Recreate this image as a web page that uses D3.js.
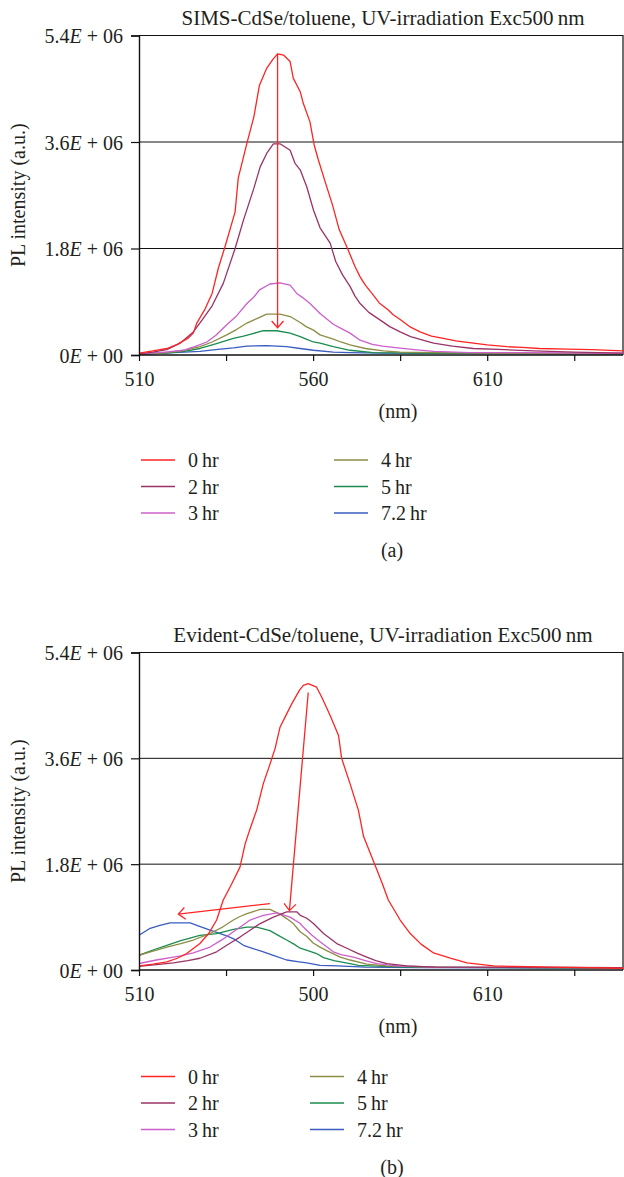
<!DOCTYPE html>
<html>
<head>
<meta charset="utf-8">
<script src="https://cdn.jsdelivr.net/npm/d3@7"></script>
<style>
  html, body { margin: 0; padding: 0; background: #fff; }
  svg text { font-family: "Liberation Serif", "DejaVu Serif", serif; }
</style>
</head>
<body>
<svg id="chart" width="624" height="1177"></svg>
<script>
// ---------------- DATA ----------------
const seriesNames = ["0 hr", "2 hr", "3 hr", "4 hr", "5 hr", "7.2 hr"];
const seriesColors = ["#ff2424", "#993366", "#cc5fcc", "#8c8c45", "#1b8c4f", "#3a5cbf"];
const yTickValues = [0, 1.8, 3.6, 5.4]; // in units of 1E6
const yTickLabels = ["0E + 00", "1.8E + 06", "3.6E + 06", "5.4E + 06"];
const xTickValues = [510, 535, 560, 585, 610, 635];
const xTickLabelsA = ["510", "", "560", "", "610", ""];
const xTickLabelsB = ["510", "", "500", "", "610", ""];
const titleA = "SIMS-CdSe/toluene, UV-irradiation Exc500\u2009nm";
const titleB = "Evident-CdSe/toluene, UV-irradiation Exc500\u2009nm";

// (a) SIMS-CdSe — [wavelength nm, PL intensity ×1E6]
const sims0 = [[510,0.03],[514,0.07],[518,0.11],[521,0.18],[524,0.28],[525.6,0.37],[526.6,0.54],[529,0.78],[531,1.04],[532.8,1.47],[534.7,1.83],[537.6,2.42],[538.5,2.99],[541,3.58],[543,4.03],[544.6,4.56],[546.7,4.85],[548.5,5.0],[549.8,5.09],[551.5,5.07],[553.4,4.96],[554.3,4.68],[556.3,4.45],[557.2,4.25],[559.1,3.94],[560.3,3.55],[561.5,3.3],[563.6,2.90],[565.5,2.55],[567.5,2.12],[570.1,1.77],[572,1.5],[573.5,1.32],[575,1.18],[576.9,1.04],[579,0.88],[581.6,0.76],[583,0.68],[585,0.60],[588,0.47],[590.7,0.39],[594,0.32],[597.4,0.28],[601,0.24],[606,0.20],[610,0.17],[615.7,0.14],[620,0.13],[625,0.11],[633,0.10],[640,0.09],[649,0.07]];
const sims2 = [[510,0.02],[514,0.05],[518,0.09],[521.8,0.2],[525.6,0.39],[528,0.58],[530.9,0.82],[534.2,1.21],[537.6,1.80],[540,2.28],[543,2.82],[544.8,3.18],[546.7,3.41],[548.6,3.57],[550.5,3.57],[553.4,3.46],[554.8,3.24],[556.3,3.13],[558.2,2.84],[560.1,2.45],[562,2.15],[564.9,1.89],[566.5,1.58],[568.5,1.35],[570.6,1.16],[572,1.0],[573.5,0.87],[576,0.72],[579.3,0.59],[582,0.48],[585,0.39],[588,0.31],[591,0.26],[594.6,0.20],[600,0.15],[606,0.11],[615,0.09],[623.3,0.07],[635,0.05],[649,0.03]];
const sims3 = [[510,0.02],[516,0.04],[522.7,0.08],[526,0.14],[529.5,0.22],[532,0.33],[535.2,0.51],[538,0.66],[541,0.87],[543,0.98],[544.6,1.10],[547.6,1.20],[550.5,1.22],[553.4,1.18],[555.3,1.04],[557,0.97],[559.1,0.87],[562,0.70],[565.8,0.52],[568,0.45],[570.6,0.37],[573.5,0.25],[577,0.18],[580,0.15],[583,0.13],[589,0.09],[594.6,0.06],[605,0.04],[620,0.04],[649,0.03]];
const sims4 = [[510,0.01],[518,0.04],[523,0.08],[527.5,0.14],[531,0.22],[535.2,0.34],[538,0.43],[541,0.54],[544,0.62],[546.7,0.69],[550.5,0.69],[553.4,0.65],[556.3,0.55],[558,0.48],[560.1,0.42],[562,0.34],[565.8,0.27],[568,0.22],[570.6,0.17],[575,0.11],[580.2,0.07],[585,0.05],[595,0.04],[610,0.03],[649,0.02]];
const sims5 = [[510,0.01],[518,0.03],[523,0.06],[527.5,0.11],[532,0.19],[537.1,0.28],[540,0.32],[541.9,0.35],[545.7,0.41],[549.6,0.41],[553.4,0.37],[556.3,0.31],[558,0.27],[560.1,0.22],[562,0.20],[565.8,0.14],[570.6,0.08],[577.3,0.04],[590,0.03],[649,0.02]];
const sims7 = [[510,0.02],[520,0.04],[527.5,0.06],[532,0.09],[537.1,0.12],[541,0.15],[546.7,0.16],[552.4,0.14],[556.3,0.11],[560.1,0.08],[565.8,0.05],[570.6,0.04],[580,0.03],[649,0.02]];

// (b) Evident-CdSe
const evid0 = [[510,0.07],[514,0.10],[518,0.14],[521,0.20],[523.7,0.28],[525.5,0.36],[527.5,0.45],[530,0.62],[532.3,0.85],[534.2,1.19],[536.5,1.45],[539,1.75],[540.5,2.15],[542,2.42],[543.8,2.72],[545.7,3.17],[547.5,3.48],[549.1,3.77],[550.5,4.13],[552.2,4.33],[553.9,4.53],[556.1,4.76],[557.2,4.84],[558.6,4.87],[561,4.81],[562.5,4.64],[564.9,4.33],[567.3,3.99],[568.2,3.60],[570.6,3.17],[573,2.72],[574.5,2.27],[577.8,1.78],[580,1.45],[581.6,1.19],[585,0.85],[587.9,0.62],[591,0.44],[594.6,0.29],[599.4,0.20],[604.2,0.12],[611.8,0.07],[617.6,0.06],[629,0.05],[649,0.03]];
const evid2 = [[510,0.06],[515,0.09],[519.9,0.12],[524,0.16],[527.5,0.20],[532.3,0.31],[536,0.45],[539,0.56],[542,0.68],[544.8,0.79],[548.6,0.90],[552.4,0.99],[555.3,0.99],[556.3,0.93],[558.2,0.88],[560.1,0.79],[563,0.62],[566.8,0.45],[569.7,0.37],[572.5,0.29],[575.4,0.22],[578,0.16],[581.2,0.11],[586.9,0.07],[595,0.05],[649,0.04]];
const evid3 = [[510,0.11],[515,0.17],[519.9,0.22],[522,0.24],[525.6,0.29],[530.4,0.39],[534,0.52],[537.1,0.65],[540,0.77],[541.9,0.85],[545.7,0.93],[549.6,0.97],[553.4,0.90],[556.3,0.79],[557.2,0.73],[559.5,0.60],[562,0.48],[565.8,0.31],[568,0.26],[571.6,0.22],[575,0.16],[578.3,0.11],[584,0.07],[595,0.05],[649,0.04]];
const evid4 = [[510,0.25],[514,0.32],[518,0.39],[522,0.45],[525.6,0.51],[530.4,0.62],[534,0.73],[537.1,0.85],[539,0.91],[541,0.96],[544.8,1.03],[547.6,1.03],[550.5,0.95],[552.5,0.87],[554.3,0.79],[556.3,0.65],[558.2,0.57],[560,0.46],[562,0.39],[563.9,0.33],[567.8,0.22],[570.6,0.17],[575.4,0.10],[581,0.07],[595,0.05],[649,0.04]];
const evid5 = [[510,0.25],[514,0.34],[518,0.42],[522,0.50],[527.5,0.59],[532.3,0.62],[537.1,0.69],[541,0.73],[543.8,0.73],[547.6,0.67],[550,0.59],[552.4,0.51],[554.5,0.44],[556.3,0.37],[558.5,0.33],[561,0.28],[563,0.21],[566,0.16],[570.6,0.11],[573,0.08],[580,0.06],[587,0.05],[649,0.03]];
const evid7 = [[510,0.59],[513.2,0.71],[516,0.76],[518.9,0.80],[524.7,0.80],[527,0.75],[530.4,0.68],[535.2,0.58],[537.5,0.52],[540,0.42],[543,0.36],[545.7,0.31],[549,0.24],[552.4,0.17],[556,0.14],[558.2,0.12],[562,0.08],[567,0.07],[575,0.05],[590,0.04],[649,0.03]];

// annotation arrows: [[tailX, tailY], [tipX, tipY]] in data units
const arrowsA = [[[549.8, 5.09], [549.8, 0.46]]];
const arrowsB = [[[558.6, 4.72], [553.2, 1.01]], [[547.6, 1.13], [521.3, 0.95]]];

// ---------------- DRAW ----------------
const SERIF = '"Liberation Serif", "DejaVu Serif", serif';
const svg = d3.select("#chart").attr("font-family", SERIF);
const FONT = 20;
const TXT = "#231f20";

function drawChart(cfg) {
  const g = svg.append("g");
  const x = d3.scaleLinear().domain([510, 649]).range([139, 623]);
  const y = d3.scaleLinear().domain([0, 5.4]).range([cfg.bottom, cfg.top]);

  // title
  g.append("text").attr("x", 383).attr("y", cfg.top - 11)
    .attr("text-anchor", "middle").attr("font-size", 21).attr("fill", TXT)
    .text(cfg.title);

  // gridlines
  g.selectAll(".grid").data(yTickValues.filter(v => v > 0 && v < 5.4)).join("line")
    .attr("x1", x.range()[0]).attr("x2", x.range()[1])
    .attr("y1", d => y(d)).attr("y2", d => y(d))
    .attr("stroke", "#111").attr("stroke-width", 1);

  // plot border top and right
  g.append("path")
    .attr("d", `M${x.range()[0]},${y(5.4)}H${x.range()[1]}V${y(0)}`)
    .attr("fill", "none").attr("stroke", "#111").attr("stroke-width", 1.2);

  // clip
  const clipId = "clip" + cfg.id;
  svg.append("clipPath").attr("id", clipId).append("rect")
    .attr("x", x.range()[0]).attr("y", y(5.4))
    .attr("width", x.range()[1] - x.range()[0]).attr("height", y(0) - y(5.4));

  const line = d3.line().x(d => x(d[0])).y(d => y(d[1]));
  const lg = g.append("g").attr("clip-path", `url(#${clipId})`);
  cfg.series.map((s, i) => ({ s, i })).reverse().forEach(({ s, i }) => {
    lg.append("path").datum(s).attr("d", line)
      .attr("fill", "none").attr("stroke", seriesColors[i]).attr("stroke-width", 1.3)
      .attr("stroke-linejoin", "round");
  });

  // arrows
  cfg.arrows.forEach(a => {
    const [t0, t1] = a;
    const x0 = x(t0[0]), y0 = y(t0[1]), x1 = x(t1[0]), y1 = y(t1[1]);
    const ang = Math.atan2(y1 - y0, x1 - x0);
    const L = 9, spread = 0.72;
    const p1 = [x1 - L * Math.cos(ang - spread), y1 - L * Math.sin(ang - spread)];
    const p2 = [x1 - L * Math.cos(ang + spread), y1 - L * Math.sin(ang + spread)];
    g.append("path")
      .attr("d", `M${x0},${y0}L${x1},${y1}M${p1[0]},${p1[1]}L${x1},${y1}L${p2[0]},${p2[1]}`)
      .attr("fill", "none").attr("stroke", "#ff2424").attr("stroke-width", 1.3);
  });

  // y axis
  const yAxis = g.append("g").attr("transform", `translate(${x.range()[0]},0)`)
    .call(d3.axisLeft(y).tickValues(yTickValues).tickSize(8).tickFormat(""));
  yAxis.attr("font-family", SERIF);
  yAxis.select(".domain").attr("stroke", "#111").attr("stroke-width", 1.4);
  yAxis.selectAll(".tick line").attr("stroke", "#111").attr("stroke-width", 1.2);
  yAxis.selectAll(".tick").each(function (d) {
    const lab = yTickLabels[yTickValues.indexOf(d)];
    const [mant, exp] = lab.split("E");
    const t = d3.select(this).append("text")
      .attr("x", -16).attr("dy", "0.35em").attr("text-anchor", "end")
      .attr("fill", TXT).attr("font-size", FONT).attr("font-family", SERIF);
    t.append("tspan").text(mant);
    t.append("tspan").attr("font-style", "italic").text("E");
    t.append("tspan").text(exp);
  });

  // x axis
  const xAxis = g.append("g").attr("transform", `translate(0,${y(0)})`)
    .call(d3.axisBottom(x).tickValues(xTickValues).tickSize(6)
      .tickFormat((d, i) => cfg.xLabels[i]));
  xAxis.attr("font-family", SERIF);
  xAxis.select(".domain").attr("stroke", "#111").attr("stroke-width", 1.6)
    .attr("d", `M${x.range()[0]},0H${x.range()[1]}`);
  xAxis.selectAll(".tick line").attr("stroke", "#111").attr("stroke-width", 1.2);
  xAxis.selectAll(".tick text").attr("font-size", FONT).attr("fill", TXT)
    .attr("y", 17).attr("font-family", SERIF);

  // x axis title
  g.append("text").attr("x", 398).attr("y", y(0) + 63)
    .attr("text-anchor", "middle").attr("font-size", FONT).attr("fill", TXT)
    .text("(nm)");

  // y axis title
  const yc = (y(0) + y(5.4)) / 2;
  g.append("text").attr("transform", `translate(25,${yc}) rotate(-90)`)
    .attr("text-anchor", "middle").attr("font-size", FONT).attr("fill", TXT)
    .text("PL intensity (a.u.)");

  // legend
  const lgd = g.append("g");
  seriesNames.forEach((name, i) => {
    const col = Math.floor(i / 3), row = i % 3;
    const lx = col === 0 ? 141 : cfg.legendCol2;
    const ly = cfg.legendTop + row * 26.5;
    lgd.append("line").attr("x1", lx).attr("x2", lx + 34).attr("y1", ly).attr("y2", ly)
      .attr("stroke", seriesColors[i]).attr("stroke-width", 1.6);
    lgd.append("text").attr("x", lx + 47).attr("y", ly).attr("dy", "0.35em")
      .attr("font-size", FONT).attr("fill", TXT).text(name.replace(" ", "\u2009"));
  });

  // panel label
  g.append("text").attr("x", 392).attr("y", cfg.panelY).attr("dy", "0.35em")
    .attr("text-anchor", "middle").attr("font-size", FONT).attr("fill", TXT)
    .text(cfg.panel);
}

drawChart({
  id: "a", top: 35.5, bottom: 355, title: titleA, xLabels: xTickLabelsA,
  series: [sims0, sims2, sims3, sims4, sims5, sims7], arrows: arrowsA,
  legendTop: 460, legendCol2: 334, panelY: 550, panel: "(a)"
});
drawChart({
  id: "b", top: 652.5, bottom: 970, title: titleB, xLabels: xTickLabelsB,
  series: [evid0, evid2, evid3, evid4, evid5, evid7], arrows: arrowsB,
  legendTop: 1076.5, legendCol2: 310, panelY: 1167, panel: "(b)"
});
svg.selectAll("text").attr("font-family", SERIF);
</script>
</body>
</html>
